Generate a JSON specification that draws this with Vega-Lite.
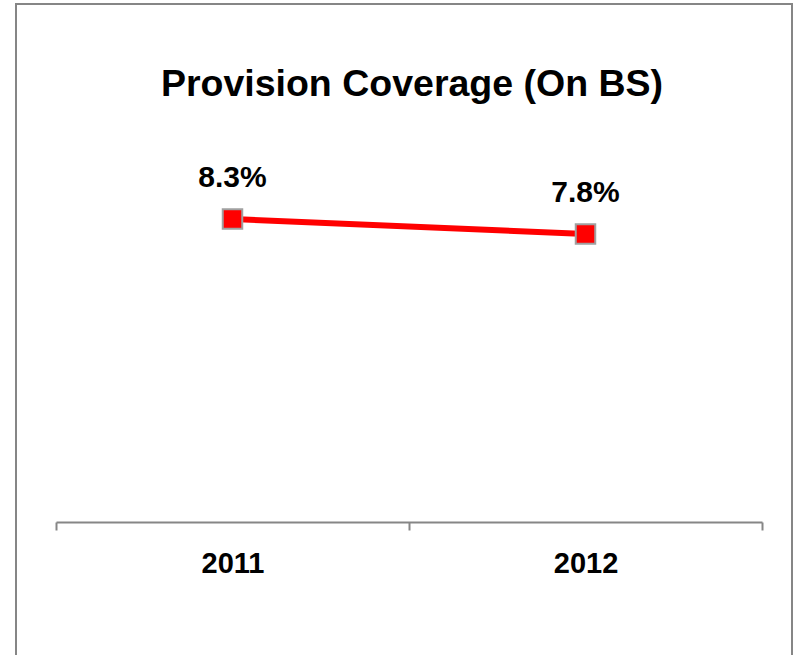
{
  "$schema": "https://vega.github.io/schema/vega-lite/v6.json",
  "autosize": "none",
  "width": 776,
  "height": 660,
  "padding": {"left": 16, "top": 4, "right": 7, "bottom": 0},
  "background": "white",
  "config": {
    "font": "Liberation Sans",
    "view": {"stroke": "#868686", "strokeWidth": 2}
  },
  "title": {
    "text": "Provision Coverage (On BS)",
    "font": "Liberation Sans",
    "fontSize": 37.5,
    "fontWeight": "bold",
    "color": "black",
    "anchor": "middle",
    "frame": "group",
    "baseline": "alphabetic",
    "offset": -129,
    "dx": 8
  },
  "data": {
    "values": [
      {"year": "2011", "value": 8.3, "label": "8.3%"},
      {"year": "2012", "value": 7.8, "label": "7.8%"}
    ]
  },
  "encoding": {
    "x": {
      "field": "year",
      "type": "nominal",
      "scale": {"type": "band", "range": [40, 746], "paddingInner": 0, "paddingOuter": 0},
      "axis": {
        "title": null,
        "orient": "bottom",
        "offset": -142,
        "labelAngle": 0,
        "tickBand": "extent",
        "domainColor": "#868686",
        "domainWidth": 2,
        "tickColor": "#868686",
        "tickWidth": 2,
        "tickSize": 8,
        "labelFont": "Liberation Sans",
        "labelFontSize": 29,
        "labelFontWeight": "bold",
        "labelColor": "black",
        "labelPadding": 19,
        "grid": false
      }
    },
    "y": {
      "field": "value",
      "type": "quantitative",
      "scale": {"domain": [0, 10], "range": [464, 164], "zero": false, "nice": false},
      "axis": null
    }
  },
  "layer": [
    {"mark": {"type": "line", "color": "#FF0000", "strokeWidth": 6}},
    {"mark": {"type": "point", "shape": "square", "filled": true, "fill": "#FF0000", "stroke": "#A0A0A0", "strokeWidth": 2, "size": 380, "opacity": 1}},
    {
      "mark": {"type": "text", "dy": -41, "font": "Liberation Sans", "fontSize": 30, "fontWeight": "bold", "color": "black"},
      "encoding": {"text": {"field": "label"}}
    }
  ]
}
